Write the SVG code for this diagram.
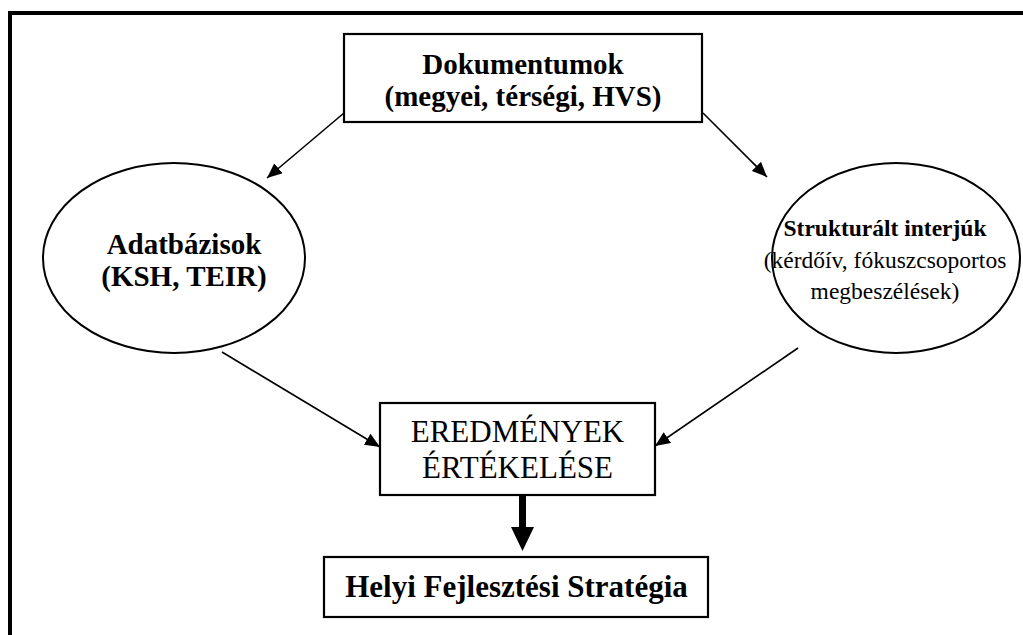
<svg xmlns="http://www.w3.org/2000/svg" width="1023" height="635" viewBox="0 0 1023 635">
<style>
.box{fill:#fff;stroke:#000;stroke-width:2.2}
.ell{fill:#fff;stroke:#000;stroke-width:2}
.t{font-family:"Liberation Serif","Times New Roman",serif;fill:#000;text-anchor:middle}
.b{font-weight:bold}
.con{stroke:#000;stroke-width:1.6;fill:none}
</style>
<defs>
<marker id="ah" markerUnits="userSpaceOnUse" markerWidth="16" markerHeight="13" refX="15" refY="6.5" orient="auto">
<path d="M0,0 L15,6.5 L0,13 z" fill="#000"/>
</marker>
</defs>
<rect width="1023" height="635" fill="#fff"/>
<rect x="10" y="13" width="1100" height="700" fill="none" stroke="#000" stroke-width="4"/>
<g id="connectors">
<line class="con" x1="344" y1="113" x2="267" y2="178" marker-end="url(#ah)"/>
<line class="con" x1="703" y1="113" x2="767" y2="177" marker-end="url(#ah)"/>
<line class="con" x1="222" y1="352" x2="380" y2="447" marker-end="url(#ah)"/>
<line class="con" x1="798" y1="348" x2="655" y2="446" marker-end="url(#ah)"/>
<path d="M519,496 L526,496 L526,527 L534,527 L522.5,551 L511,527 L519,527 z" fill="#000"/>
</g>
<g id="dokumentumok">
<rect class="box" x="344" y="34" width="358" height="88"/>
<text class="t b" x="523" y="74" font-size="29">Dokumentumok</text>
<text class="t b" x="523" y="106" font-size="29">(megyei, térségi, HVS)</text>
</g>
<g id="adatbazisok">
<ellipse class="ell" cx="174" cy="258" rx="131" ry="95"/>
<text class="t b" x="184" y="254" font-size="29">Adatbázisok</text>
<text class="t b" x="184" y="286" font-size="29">(KSH, TEIR)</text>
</g>
<g id="interjuk">
<ellipse class="ell" cx="896" cy="258" rx="124" ry="95"/>
<text class="t b" x="885" y="236" font-size="23.5">Strukturált interjúk</text>
<text class="t" x="885" y="268" font-size="23.5">(kérdőív, fókuszcsoportos</text>
<text class="t" x="885" y="299" font-size="23.5">megbeszélések)</text>
</g>
<g id="eredmenyek">
<rect class="box" x="380" y="403" width="275" height="92"/>
<text class="t" x="517.5" y="442" font-size="31">EREDMÉNYEK</text>
<text class="t" x="517.5" y="478" font-size="31">ÉRTÉKELÉSE</text>
</g>
<g id="strategia">
<rect class="box" x="324" y="557" width="384" height="60" stroke-width="3"/>
<text class="t b" x="516.5" y="597" font-size="31">Helyi Fejlesztési Stratégia</text>
</g>
</svg>
